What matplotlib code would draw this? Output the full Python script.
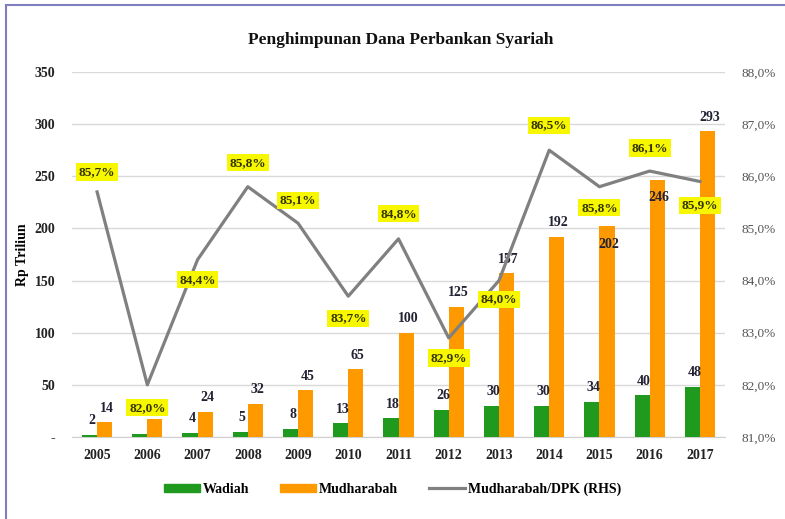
import matplotlib
matplotlib.use("Agg")
import matplotlib.pyplot as plt
from matplotlib.patches import Patch
from matplotlib.lines import Line2D
import numpy as np

years = ["2005", "2006", "2007", "2008", "2009", "2010", "2011", "2012",
         "2013", "2014", "2015", "2016", "2017"]
wadiah = [2, 3, 4, 5, 8, 13, 18, 26, 30, 30, 34, 40, 48]
mudharabah = [14, 17, 24, 32, 45, 65, 100, 125, 157, 192, 202, 246, 293]
ratio = [85.7, 82.0, 84.4, 85.8, 85.1, 83.7, 84.8, 82.9, 84.0, 86.5, 85.8, 86.1, 85.9]

left_ticks = [0, 50, 100, 150, 200, 250, 300, 350]
right_ticks = [81, 82, 83, 84, 85, 86, 87, 88]

# label placement (pixels, + = above point); None = label hidden behind the 2006 % box
pct_offsets = [20, -23, -20, 24, 23, -22, 25, -20, -19, 25, -21, 23, -24]
mud_offsets = [14, None, 14, 14, 14, 14, 14, 14, 14, 14, -18, -17, 14]
wad_offsets = [14, None, 14, 14, 14, 14, 14, 14, 14, 14, 14, 14, 14]

GREEN = "#1f9a1f"
ORANGE = "#ff9900"
GRAY = "#808080"
YELLOW = "#f7f700"
SERIF = ["Liberation Serif", "DejaVu Serif"]

fig = plt.figure(figsize=(7.85, 5.19), dpi=100)
fig.patch.set_facecolor("white")
ax = fig.add_axes([0.0917, 0.158, 0.8319, 0.7033])
ax2 = ax.twinx()

x = np.arange(len(years))
w = 0.3
ax.bar(x - w / 2, wadiah, width=w, color=GREEN, zorder=3)
ax.bar(x + w / 2, mudharabah, width=w, color=ORANGE, zorder=3)

ax.set_xlim(-0.5, len(years) - 0.5)
ax.set_ylim(0, 350)
ax.set_yticks(left_ticks)
ax.set_yticklabels(["-" if t == 0 else str(t) for t in left_ticks],
                   fontfamily=SERIF, fontweight="bold", fontsize=10, color="#222222")
ax.set_xticks(x)
ax.set_xticklabels(years, fontfamily=SERIF, fontweight="bold", fontsize=10, color="#222222")
ax.tick_params(axis="x", length=0, pad=9)
ax.tick_params(axis="y", length=0, pad=12)
ax.grid(axis="y", color="#d9d9d9", linewidth=1, zorder=0)
ax.set_axisbelow(True)
for s in ["top", "right", "left"]:
    ax.spines[s].set_visible(False)
ax.spines["bottom"].set_color("#d0d0d0")
ax.set_ylabel("Rp Triliun", fontfamily=SERIF, fontweight="bold", fontsize=10, labelpad=4)

for i, v in enumerate(wadiah):
    if wad_offsets[i] is None:
        continue
    ax.annotate(str(v), (x[i] - w / 2, v), xytext=(2, wad_offsets[i]), textcoords="offset pixels",
                ha="center", va="center", fontfamily=SERIF, fontweight="bold",
                fontsize=10, color="#222233", zorder=4)
for i, v in enumerate(mudharabah):
    if mud_offsets[i] is None:
        continue
    ax.annotate(str(v), (x[i] + w / 2, v), xytext=(2, mud_offsets[i]), textcoords="offset pixels",
                ha="center", va="center", fontfamily=SERIF, fontweight="bold",
                fontsize=10, color="#222233", zorder=4)

ax2.plot(x, ratio, color=GRAY, linewidth=2.3, zorder=5)
ax2.set_ylim(81, 88)
ax2.set_yticks(right_ticks)
ax2.set_yticklabels([f"{t:.1f}%".replace(".", ",") for t in right_ticks],
                    fontfamily=SERIF, fontsize=9.5, color="#555555")
ax2.tick_params(axis="y", length=0, pad=12)
for s in ["top", "right", "left", "bottom"]:
    ax2.spines[s].set_visible(False)

for i, v in enumerate(ratio):
    ax2.annotate(f"{v:.1f}%".replace(".", ","), (x[i], v), xytext=(0, pct_offsets[i]),
                 textcoords="offset pixels", ha="center", va="center",
                 fontfamily=SERIF, fontweight="bold", fontsize=9.5, color="#333300",
                 bbox=dict(boxstyle="square,pad=0.2", fc=YELLOW, ec="none"), zorder=6)

ax2.set_zorder(ax.get_zorder() + 1)
ax2.patch.set_visible(False)

fig.text(0.51, 0.922, "Penghimpunan Dana Perbankan Syariah", ha="center", va="center",
         fontfamily=SERIF, fontweight="bold", fontsize=12.5, color="#111111")

handles = [Patch(color=GREEN), Patch(color=ORANGE), Line2D([0], [0], color=GRAY, linewidth=2.3)]
labels = ["Wadiah", "Mudharabah", "Mudharabah/DPK (RHS)"]
fig.legend(handles, labels, loc="center", bbox_to_anchor=(0.5, 0.057), ncol=3, frameon=False,
           prop=dict(family=SERIF, weight="bold", size=10), handlelength=2.6, handleheight=0.55,
           columnspacing=2.2, handletextpad=0.2)

# frame lines
fig.add_artist(Line2D([6 / 785, 6 / 785], [0, 1 - 5 / 519], color="#7f7fc0", linewidth=1.5,
                      transform=fig.transFigure))
fig.add_artist(Line2D([6 / 785, 1], [1 - 5 / 519, 1 - 5 / 519], color="#7f7fc0", linewidth=1.5,
                      transform=fig.transFigure))

fig.savefig("out.png", dpi=100, facecolor="white")
